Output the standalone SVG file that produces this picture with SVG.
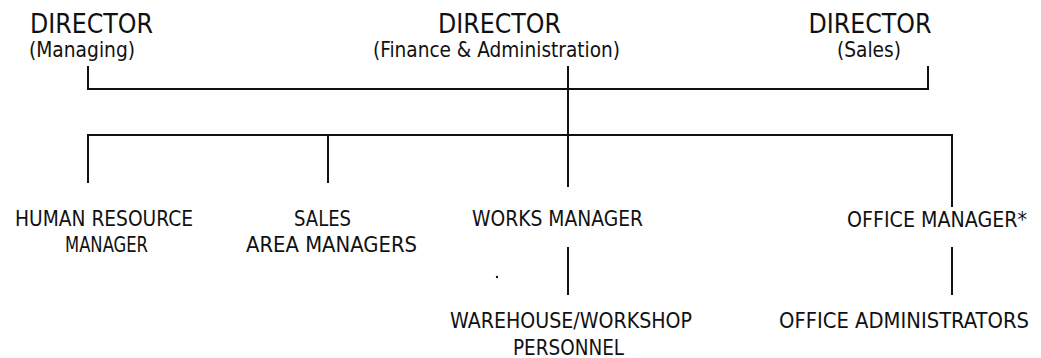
<svg xmlns="http://www.w3.org/2000/svg" width="1041" height="358" viewBox="0 0 1041 358">
  <style>
    text { font-family: "DejaVu Sans Condensed", "DejaVu Sans", sans-serif; fill: #111; text-anchor: middle; font-stretch: condensed; }
    .title { font-size: 26px; }
    .sub { font-size: 21px; }
    .role { font-size: 21px; }
    .link { stroke: #111; stroke-width: 2; fill: none; }
  </style>
  <rect width="1041" height="358" fill="#fff"/>

  <!-- reporting lines -->
  <g id="connectors">
    <path class="link" d="M88 66 V89 H928 V66"/>
    <path class="link" d="M568 66 V187"/>
    <path class="link" d="M88 183 V135 H952 V207"/>
    <path class="link" d="M328 135 V183"/>
    <path class="link" d="M568 247 V295"/>
    <path class="link" d="M952 247 V295"/>
  </g>

  <g id="director-managing">
    <text class="title" x="91.5" y="33" textLength="123" lengthAdjust="spacingAndGlyphs">DIRECTOR</text>
    <text class="sub" x="82" y="57" textLength="106" lengthAdjust="spacingAndGlyphs">(Managing)</text>
  </g>
  <g id="director-finance">
    <text class="title" x="499.5" y="33" textLength="123" lengthAdjust="spacingAndGlyphs">DIRECTOR</text>
    <text class="sub" x="496.5" y="57" textLength="247" lengthAdjust="spacingAndGlyphs">(Finance &amp; Administration)</text>
  </g>
  <g id="director-sales">
    <text class="title" x="870" y="33" textLength="123" lengthAdjust="spacingAndGlyphs">DIRECTOR</text>
    <text class="sub" x="869" y="57" textLength="64" lengthAdjust="spacingAndGlyphs">(Sales)</text>
  </g>

  <g id="hr-manager">
    <text class="role" x="104" y="225.5" textLength="178" lengthAdjust="spacingAndGlyphs">HUMAN RESOURCE</text>
    <text class="role" x="106.5" y="252" textLength="83" lengthAdjust="spacingAndGlyphs">MANAGER</text>
  </g>
  <g id="sales-area-managers">
    <text class="role" x="322.5" y="225.5" textLength="57" lengthAdjust="spacingAndGlyphs">SALES</text>
    <text class="role" x="331.5" y="252" textLength="171" lengthAdjust="spacingAndGlyphs">AREA MANAGERS</text>
  </g>
  <g id="works-manager">
    <text class="role" x="557.5" y="226" textLength="171" lengthAdjust="spacingAndGlyphs">WORKS MANAGER</text>
  </g>
  <g id="office-manager">
    <text class="role" x="937" y="226.5" textLength="180" lengthAdjust="spacingAndGlyphs">OFFICE MANAGER*</text>
  </g>
  <g id="warehouse-personnel">
    <text class="role" x="571" y="328" textLength="242" lengthAdjust="spacingAndGlyphs">WAREHOUSE/WORKSHOP</text>
    <text class="role" x="568.5" y="355" textLength="111" lengthAdjust="spacingAndGlyphs">PERSONNEL</text>
  </g>
  <g id="office-administrators">
    <text class="role" x="904" y="328" textLength="250" lengthAdjust="spacingAndGlyphs">OFFICE ADMINISTRATORS</text>
  </g>

  <circle cx="497" cy="277" r="1.2" fill="#111"/>
</svg>
